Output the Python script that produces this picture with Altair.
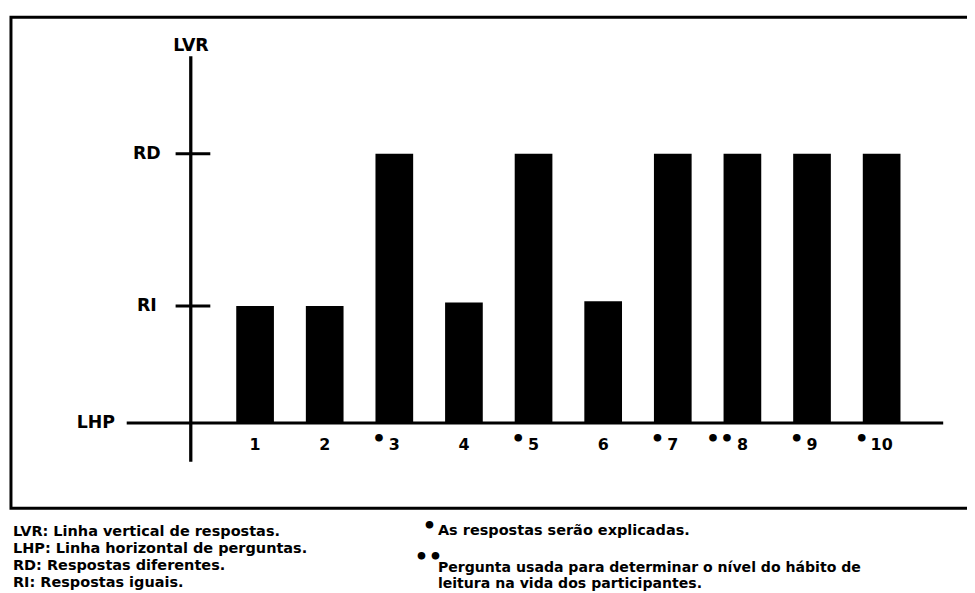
import altair as alt
import pandas as pd

# ---------------- data ----------------
questions = [1, 2, 3, 4, 5, 6, 7, 8, 9, 10]
answer_type = ["RI", "RI", "RD", "RI", "RD", "RI", "RD", "RD", "RD", "RD"]
bar_levels = [1.0, 1.0, 2.3, 1.03, 2.3, 1.04, 2.3, 2.3, 2.3, 2.3]
question_marks = ["", "", "•", "", "•", "", "•", "••", "•", "•"]

level_names = ["RI", "RD"]
level_values = [1.0, 2.3]

y_axis_name = "LVR"
x_axis_name = "LHP"

legend_left = [
    "LVR: Linha vertical de respostas.",
    "LHP: Linha horizontal de perguntas.",
    "RD: Respostas diferentes.",
    "RI: Respostas iguais.",
]
legend_right_1 = ["As respostas serão explicadas."]
legend_right_2 = [
    "Pergunta usada para determinar o nível do hábito de",
    "leitura na vida dos participantes.",
]
legend_mark_1 = "•"
legend_mark_2 = "••"

# ---------------- layout ----------------
W, H = 967, 585
FONT = "DejaVu Sans"

df = pd.DataFrame({
    "q": questions,
    "type": answer_type,
    "level": bar_levels,
    "mark": question_marks,
    "label": [str(q) for q in questions],
})
levels_df = pd.DataFrame({"name": level_names, "value": level_values})
one = pd.DataFrame({"k": [0]})

xs = alt.Scale(domain=[-2.478, 11.155], nice=False, zero=False)
ys = alt.Scale(domain=[-1.4322, 3.5254], nice=False, zero=False)

base = alt.Chart(df)

bars = base.mark_bar(size=38, color="black").encode(
    x=alt.X("q:Q", scale=xs, axis=None),
    y=alt.Y("level:Q", scale=ys, axis=None),
    y2=alt.datum(0),
)

numbers = base.mark_text(font=FONT, fontWeight="bold", fontSize=16,
                         baseline="middle", align="center", color="black").encode(
    x=alt.X("q:Q", scale=xs, axis=None),
    y=alt.value(438),
    text="label:N",
)

bullet_style = dict(font=FONT, fontWeight="bold", fontSize=22,
                    baseline="middle", align="right", color="black")

bullets_1 = base.transform_filter("length(datum.label) == 1").mark_text(
    dx=-8.5, **bullet_style).encode(
    x=alt.X("q:Q", scale=xs, axis=None),
    y=alt.value(432),
    text="mark:N",
)
bullets_2 = base.transform_filter("length(datum.label) > 1").mark_text(
    dx=-13, **bullet_style).encode(
    x=alt.X("q:Q", scale=xs, axis=None),
    y=alt.value(432),
    text="mark:N",
)

# vertical axis line (LVR)
v_axis = alt.Chart(one).mark_rule(color="black", strokeWidth=3.3).encode(
    x=alt.value(184.3), y=alt.value(46.3), y2=alt.value(455),
)

# horizontal axis line (LHP) at level 0
h_axis = alt.Chart(one).mark_rule(color="black", strokeWidth=3).encode(
    x=alt.value(119.7), x2=alt.value(943),
    y=alt.Y(datum=0, scale=ys, axis=None),
)

ticks = alt.Chart(levels_df).mark_rule(color="black", strokeWidth=3).encode(
    x=alt.value(169), x2=alt.value(204),
    y=alt.Y("value:Q", scale=ys, axis=None),
)

tick_labels = alt.Chart(levels_df).mark_text(
    font=FONT, fontWeight="bold", fontSize=17.5, align="center",
    baseline="middle", color="black").encode(
    x=alt.value(140),
    y=alt.Y("value:Q", scale=ys, axis=None),
    text="name:N",
)

lvr_label = alt.Chart(one).mark_text(
    font=FONT, fontWeight="bold", fontSize=17.5, align="center",
    baseline="middle", color="black").encode(
    x=alt.value(184.5), y=alt.value(35.5), text=alt.value(y_axis_name),
)

lhp_label = alt.Chart(one).mark_text(
    font=FONT, fontWeight="bold", fontSize=17.5, align="center",
    baseline="middle", color="black").encode(
    x=alt.value(88.5), y=alt.Y(datum=0, scale=ys, axis=None),
    text=alt.value(x_axis_name),
)

frame = alt.Chart(one).mark_rect(fillOpacity=0, stroke="black", strokeWidth=3).encode(
    x=alt.value(3), x2=alt.value(1000), y=alt.value(7), y2=alt.value(502),
)

leg_left = alt.Chart(one).mark_text(
    font=FONT, fontWeight="bold", fontSize=14.6, align="left",
    baseline="alphabetic", lineHeight=17, color="black").encode(
    x=alt.value(5), y=alt.value(530), text=alt.value(legend_left),
)
leg_r1 = alt.Chart(one).mark_text(
    font=FONT, fontWeight="bold", fontSize=14.6, align="left",
    baseline="alphabetic", color="black").encode(
    x=alt.value(433.5), y=alt.value(528.7), text=alt.value(legend_right_1),
)
leg_r2 = alt.Chart(one).mark_text(
    font=FONT, fontWeight="bold", fontSize=14.2, align="left",
    baseline="alphabetic", lineHeight=16.5, color="black").encode(
    x=alt.value(433.5), y=alt.value(566), text=alt.value(legend_right_2),
)
leg_b1 = alt.Chart(one).mark_text(font=FONT, fontWeight="bold", fontSize=22,
                                  align="center", baseline="middle", color="black").encode(
    x=alt.value(425), y=alt.value(520), text=alt.value(legend_mark_1),
)
leg_b2 = alt.Chart(one).mark_text(font=FONT, fontWeight="bold", fontSize=22,
                                  align="center", baseline="middle", color="black").encode(
    x=alt.value(424), y=alt.value(551), text=alt.value(legend_mark_2),
)

chart = alt.layer(
    frame, bars, h_axis, v_axis, ticks, tick_labels, lvr_label, lhp_label,
    numbers, bullets_1, bullets_2, leg_left, leg_r1, leg_r2, leg_b1, leg_b2,
).properties(
    width=W, height=H,
    autosize=alt.AutoSizeParams(type="none"),
    padding=0,
).configure_view(stroke=None)

chart.save("out.html", embed_options={"renderer": "svg", "actions": False})
